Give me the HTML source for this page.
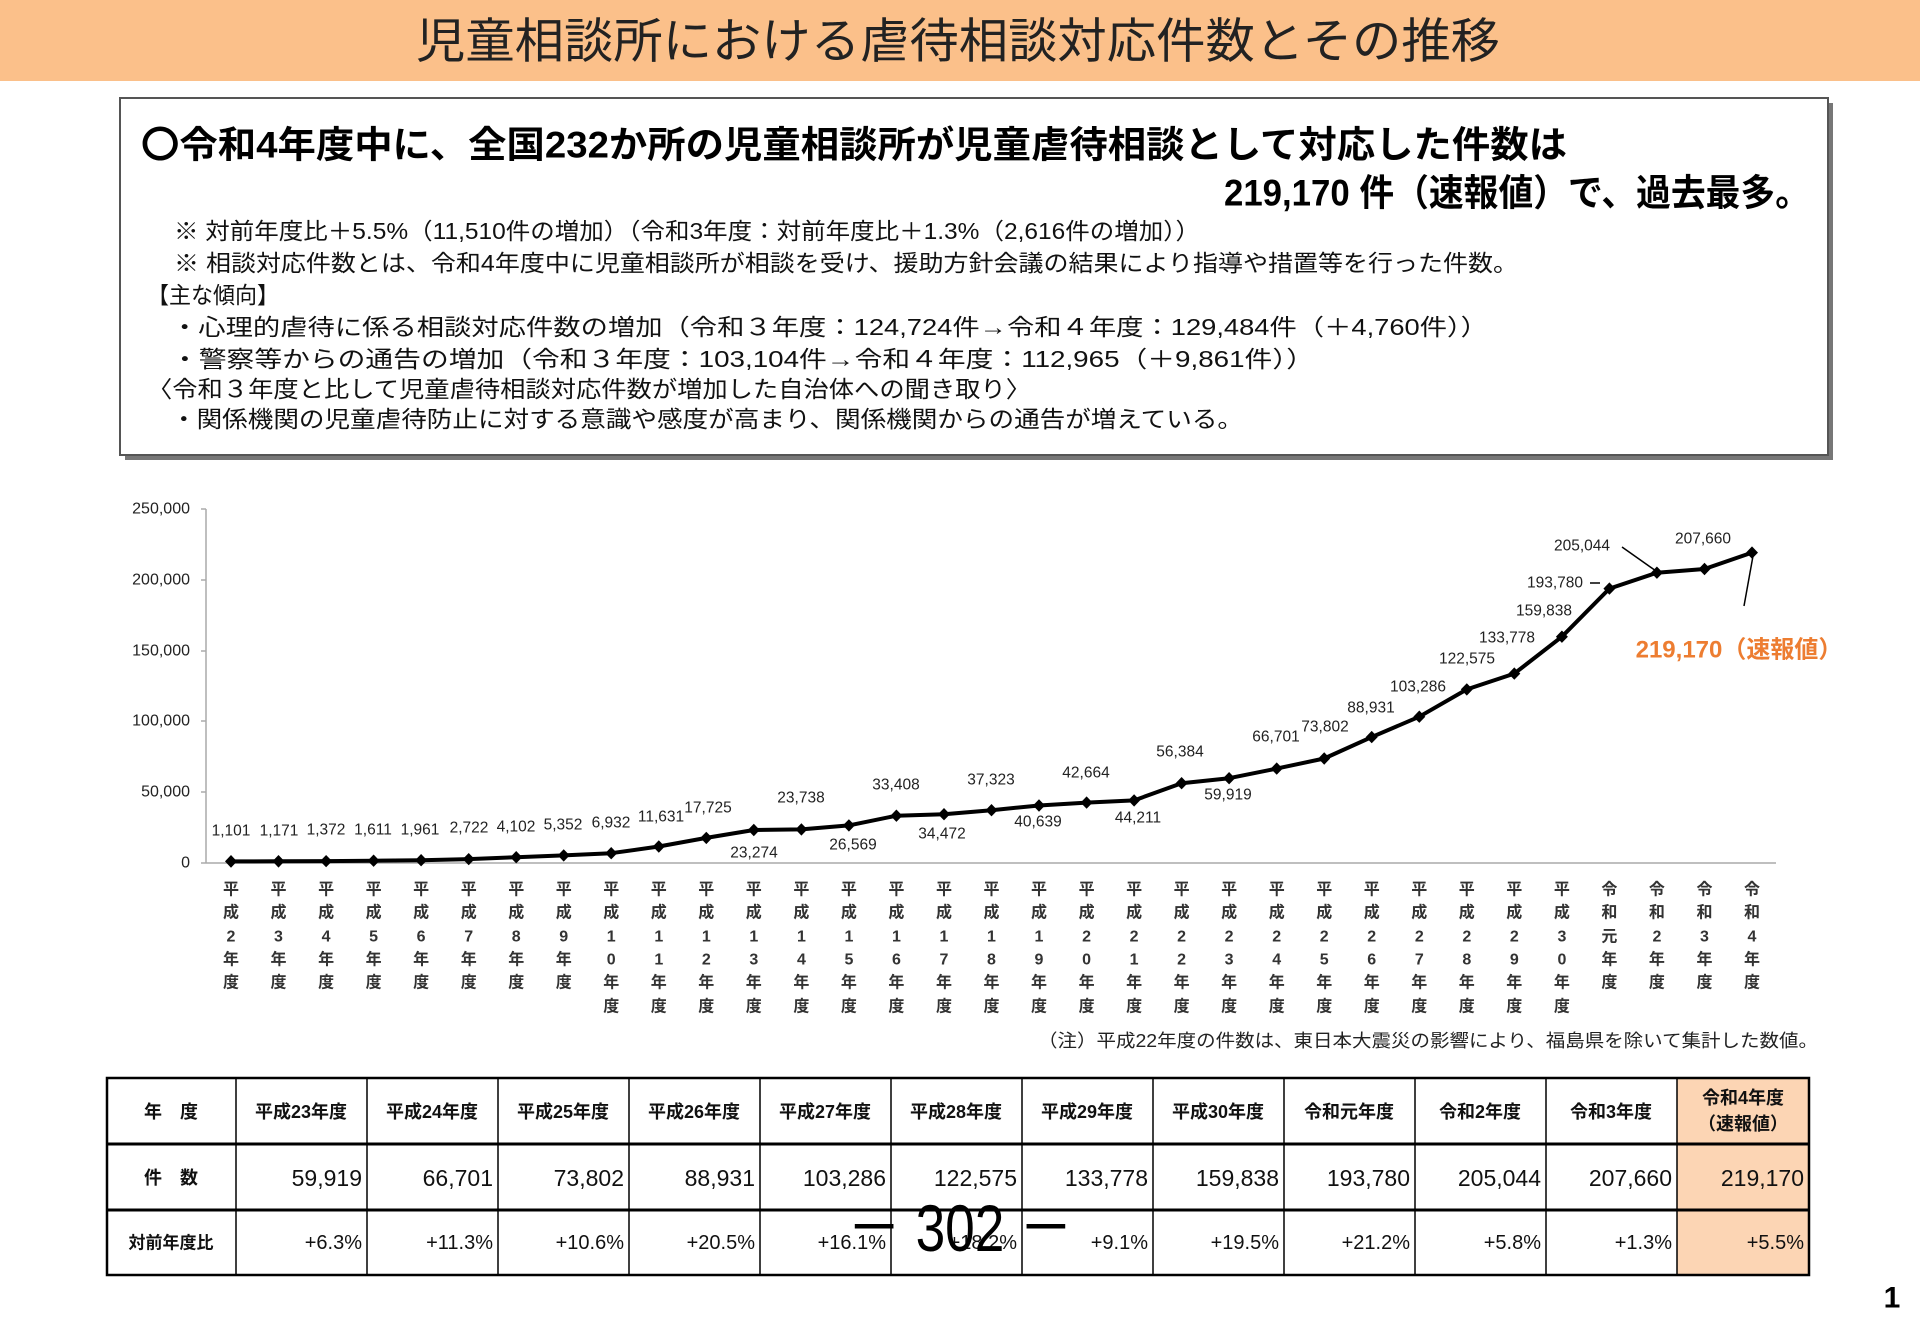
<!DOCTYPE html>
<html><head><meta charset="utf-8"><style>
html,body{margin:0;padding:0;background:#fff;}
svg{display:block;}
text{font-family:"Liberation Sans","Noto Sans CJK JP",sans-serif;}
</style></head><body>
<svg width="1920" height="1333" viewBox="0 0 1920 1333" xmlns="http://www.w3.org/2000/svg">
<rect x="0" y="0" width="1920" height="81" fill="#fbc08a"/>
<text x="958" y="42" font-size="48" text-anchor="middle" dominant-baseline="central" fill="#222" textLength="1084" lengthAdjust="spacingAndGlyphs">児童相談所における虐待相談対応件数とその推移</text>

<rect x="125" y="103" width="1708" height="357" fill="#777"/>
<rect x="120" y="98" width="1708" height="357" fill="#fff" stroke="#555" stroke-width="2"/>
<g font-weight="bold" fill="#000">
<text x="141" y="145" font-size="37" dominant-baseline="central" textLength="1426" lengthAdjust="spacingAndGlyphs">〇令和4年度中に、全国232か所の児童相談所が児童虐待相談として対応した件数は</text>
<text x="1224" y="193" font-size="37" dominant-baseline="central" textLength="586" lengthAdjust="spacingAndGlyphs">219,170 件（速報値）で、過去最多。</text>
</g>
<g fill="#111" font-size="23">
<text x="174" y="231" dominant-baseline="central" textLength="1026" lengthAdjust="spacingAndGlyphs">※ 対前年度比＋5.5%（11,510件の増加）（令和3年度：対前年度比＋1.3%（2,616件の増加））</text>
<text x="174" y="263" dominant-baseline="central" textLength="1344" lengthAdjust="spacingAndGlyphs">※ 相談対応件数とは、令和4年度中に児童相談所が相談を受け、援助方針会議の結果により指導や措置等を行った件数。</text>
<text x="147" y="295" dominant-baseline="central" textLength="132" lengthAdjust="spacingAndGlyphs">【主な傾向】</text>
<text x="171" y="327" dominant-baseline="central" textLength="1317" lengthAdjust="spacingAndGlyphs">・心理的虐待に係る相談対応件数の増加（令和３年度：124,724件→令和４年度：129,484件（＋4,760件））</text>
<text x="171" y="359" dominant-baseline="central" textLength="1143" lengthAdjust="spacingAndGlyphs">・警察等からの通告の増加（令和３年度：103,104件→令和４年度：112,965（＋9,861件））</text>
<text x="147" y="389" dominant-baseline="central" textLength="884" lengthAdjust="spacingAndGlyphs">〈令和３年度と比して児童虐待相談対応件数が増加した自治体への聞き取り〉</text>
<text x="171" y="419" dominant-baseline="central" textLength="1072" lengthAdjust="spacingAndGlyphs">・関係機関の児童虐待防止に対する意識や感度が高まり、関係機関からの通告が増えている。</text>
</g>

<!-- axes -->
<g stroke="#aaa" stroke-width="1.5">
<line x1="206" y1="509" x2="206" y2="863"/>
<line x1="206" y1="863" x2="1776" y2="863"/>
<line x1="201" y1="509" x2="206" y2="509"/><line x1="201" y1="580" x2="206" y2="580"/><line x1="201" y1="651" x2="206" y2="651"/><line x1="201" y1="721" x2="206" y2="721"/><line x1="201" y1="792" x2="206" y2="792"/><line x1="201" y1="863" x2="206" y2="863"/>
</g>
<g font-size="16" fill="#222" text-anchor="end" dominant-baseline="central">
<text x="190" y="509">250,000</text><text x="190" y="580">200,000</text><text x="190" y="651">150,000</text><text x="190" y="721">100,000</text><text x="190" y="792">50,000</text><text x="190" y="863">0</text>
</g>
<polyline fill="none" stroke="#000" stroke-width="4" stroke-linejoin="round" points="231,861.4 278.5,861.3 326.1,861.1 373.6,860.7 421.1,860.2 468.7,859.1 516.2,857.2 563.7,855.4 611.2,853.2 658.8,846.5 706.3,837.9 753.8,830 801.4,829.4 848.9,825.4 896.4,815.7 944,814.2 991.5,810.2 1039,805.5 1086.6,802.6 1134.1,800.4 1181.6,783.2 1229.1,778.2 1276.7,768.6 1324.2,758.5 1371.7,737.1 1419.3,716.7 1466.8,689.4 1514.3,673.6 1561.9,636.7 1609.4,588.6 1656.9,572.7 1704.5,569 1752,552.6"/>
<g fill="#000" id="mk"></g>
<g fill="#000">
<path d="M231,855l6,6.4l-6,6.4l-6,-6.4z"/><path d="M278.5,855l6,6.3l-6,6.3l-6,-6.3z"/><path d="M326.1,855l6,6.1l-6,6.1l-6,-6.1z"/><path d="M373.6,854.5l6,6.2l-6,6.2l-6,-6.2z"/><path d="M421.1,854l6,6.2l-6,6.2l-6,-6.2z"/><path d="M468.7,853l6,6.1l-6,6.1l-6,-6.1z"/><path d="M516.2,851l6,6.2l-6,6.2l-6,-6.2z"/><path d="M563.7,849.2l6,6.2l-6,6.2l-6,-6.2z"/><path d="M611.2,847l6,6.2l-6,6.2l-6,-6.2z"/><path d="M658.8,840.3l6,6.2l-6,6.2l-6,-6.2z"/><path d="M706.3,831.7l6,6.2l-6,6.2l-6,-6.2z"/><path d="M753.8,823.8l6,6.2l-6,6.2l-6,-6.2z"/><path d="M801.4,823.2l6,6.2l-6,6.2l-6,-6.2z"/><path d="M848.9,819.2l6,6.2l-6,6.2l-6,-6.2z"/><path d="M896.4,809.5l6,6.2l-6,6.2l-6,-6.2z"/><path d="M944,808l6,6.2l-6,6.2l-6,-6.2z"/><path d="M991.5,804l6,6.2l-6,6.2l-6,-6.2z"/><path d="M1039,799.3l6,6.2l-6,6.2l-6,-6.2z"/><path d="M1086.6,796.4l6,6.2l-6,6.2l-6,-6.2z"/><path d="M1134.1,794.2l6,6.2l-6,6.2l-6,-6.2z"/><path d="M1181.6,777l6,6.2l-6,6.2l-6,-6.2z"/><path d="M1229.1,772l6,6.2l-6,6.2l-6,-6.2z"/><path d="M1276.7,762.4l6,6.2l-6,6.2l-6,-6.2z"/><path d="M1324.2,752.3l6,6.2l-6,6.2l-6,-6.2z"/><path d="M1371.7,730.9l6,6.2l-6,6.2l-6,-6.2z"/><path d="M1419.3,710.5l6,6.2l-6,6.2l-6,-6.2z"/><path d="M1466.8,683.2l6,6.2l-6,6.2l-6,-6.2z"/><path d="M1514.3,667.4l6,6.2l-6,6.2l-6,-6.2z"/><path d="M1561.9,630.5l6,6.2l-6,6.2l-6,-6.2z"/><path d="M1609.4,582.4l6,6.2l-6,6.2l-6,-6.2z"/><path d="M1656.9,566.5l6,6.2l-6,6.2l-6,-6.2z"/><path d="M1704.5,562.8l6,6.2l-6,6.2l-6,-6.2z"/><path d="M1752,546.4l6,6.2l-6,6.2l-6,-6.2z"/>
</g>
<g stroke="#000" stroke-width="1.5"><line x1="1622" y1="547" x2="1656" y2="571"/><line x1="1753" y1="556" x2="1744" y2="606"/><line x1="1590" y1="583" x2="1600" y2="583"/></g>
<g font-size="15.5" fill="#222" text-anchor="middle" dominant-baseline="central">
<text x="231" y="831">1,101</text><text x="279" y="831">1,171</text><text x="326" y="830">1,372</text><text x="373" y="830">1,611</text><text x="420" y="830">1,961</text><text x="469" y="828">2,722</text><text x="516" y="827">4,102</text><text x="563" y="825">5,352</text><text x="611" y="823">6,932</text><text x="661" y="817">11,631</text><text x="708" y="808">17,725</text><text x="754" y="853">23,274</text><text x="801" y="798">23,738</text><text x="853" y="845">26,569</text><text x="896" y="785">33,408</text><text x="942" y="834">34,472</text><text x="991" y="780">37,323</text><text x="1038" y="822">40,639</text><text x="1086" y="773">42,664</text><text x="1138" y="818">44,211</text><text x="1180" y="752">56,384</text><text x="1228" y="795">59,919</text><text x="1276" y="737">66,701</text><text x="1325" y="727">73,802</text><text x="1371" y="708">88,931</text><text x="1418" y="687">103,286</text><text x="1467" y="659">122,575</text><text x="1507" y="638">133,778</text><text x="1544" y="611">159,838</text><text x="1555" y="583">193,780</text><text x="1582" y="546">205,044</text><text x="1703" y="539">207,660</text>
</g>
<text x="1739" y="650" font-size="24" font-weight="bold" fill="#ed7d31" text-anchor="middle" dominant-baseline="central">219,170（速報値）</text>

<!-- x labels -->
<g font-size="16" fill="#333" text-anchor="middle" dominant-baseline="central" font-weight="bold">
<text x="231" y="890">平</text><text x="231" y="913">成</text><text x="231" y="937">2</text><text x="231" y="960">年</text><text x="231" y="983">度</text>
<text x="278.5" y="890">平</text><text x="278.5" y="913">成</text><text x="278.5" y="937">3</text><text x="278.5" y="960">年</text><text x="278.5" y="983">度</text>
<text x="326.1" y="890">平</text><text x="326.1" y="913">成</text><text x="326.1" y="937">4</text><text x="326.1" y="960">年</text><text x="326.1" y="983">度</text>
<text x="373.6" y="890">平</text><text x="373.6" y="913">成</text><text x="373.6" y="937">5</text><text x="373.6" y="960">年</text><text x="373.6" y="983">度</text>
<text x="421.1" y="890">平</text><text x="421.1" y="913">成</text><text x="421.1" y="937">6</text><text x="421.1" y="960">年</text><text x="421.1" y="983">度</text>
<text x="468.7" y="890">平</text><text x="468.7" y="913">成</text><text x="468.7" y="937">7</text><text x="468.7" y="960">年</text><text x="468.7" y="983">度</text>
<text x="516.2" y="890">平</text><text x="516.2" y="913">成</text><text x="516.2" y="937">8</text><text x="516.2" y="960">年</text><text x="516.2" y="983">度</text>
<text x="563.7" y="890">平</text><text x="563.7" y="913">成</text><text x="563.7" y="937">9</text><text x="563.7" y="960">年</text><text x="563.7" y="983">度</text>
<text x="611.2" y="890">平</text><text x="611.2" y="913">成</text><text x="611.2" y="937">1</text><text x="611.2" y="960">0</text><text x="611.2" y="983">年</text><text x="611.2" y="1007">度</text>
<text x="658.8" y="890">平</text><text x="658.8" y="913">成</text><text x="658.8" y="937">1</text><text x="658.8" y="960">1</text><text x="658.8" y="983">年</text><text x="658.8" y="1007">度</text>
<text x="706.3" y="890">平</text><text x="706.3" y="913">成</text><text x="706.3" y="937">1</text><text x="706.3" y="960">2</text><text x="706.3" y="983">年</text><text x="706.3" y="1007">度</text>
<text x="753.8" y="890">平</text><text x="753.8" y="913">成</text><text x="753.8" y="937">1</text><text x="753.8" y="960">3</text><text x="753.8" y="983">年</text><text x="753.8" y="1007">度</text>
<text x="801.4" y="890">平</text><text x="801.4" y="913">成</text><text x="801.4" y="937">1</text><text x="801.4" y="960">4</text><text x="801.4" y="983">年</text><text x="801.4" y="1007">度</text>
<text x="848.9" y="890">平</text><text x="848.9" y="913">成</text><text x="848.9" y="937">1</text><text x="848.9" y="960">5</text><text x="848.9" y="983">年</text><text x="848.9" y="1007">度</text>
<text x="896.4" y="890">平</text><text x="896.4" y="913">成</text><text x="896.4" y="937">1</text><text x="896.4" y="960">6</text><text x="896.4" y="983">年</text><text x="896.4" y="1007">度</text>
<text x="944" y="890">平</text><text x="944" y="913">成</text><text x="944" y="937">1</text><text x="944" y="960">7</text><text x="944" y="983">年</text><text x="944" y="1007">度</text>
<text x="991.5" y="890">平</text><text x="991.5" y="913">成</text><text x="991.5" y="937">1</text><text x="991.5" y="960">8</text><text x="991.5" y="983">年</text><text x="991.5" y="1007">度</text>
<text x="1039" y="890">平</text><text x="1039" y="913">成</text><text x="1039" y="937">1</text><text x="1039" y="960">9</text><text x="1039" y="983">年</text><text x="1039" y="1007">度</text>
<text x="1086.6" y="890">平</text><text x="1086.6" y="913">成</text><text x="1086.6" y="937">2</text><text x="1086.6" y="960">0</text><text x="1086.6" y="983">年</text><text x="1086.6" y="1007">度</text>
<text x="1134.1" y="890">平</text><text x="1134.1" y="913">成</text><text x="1134.1" y="937">2</text><text x="1134.1" y="960">1</text><text x="1134.1" y="983">年</text><text x="1134.1" y="1007">度</text>
<text x="1181.6" y="890">平</text><text x="1181.6" y="913">成</text><text x="1181.6" y="937">2</text><text x="1181.6" y="960">2</text><text x="1181.6" y="983">年</text><text x="1181.6" y="1007">度</text>
<text x="1229.1" y="890">平</text><text x="1229.1" y="913">成</text><text x="1229.1" y="937">2</text><text x="1229.1" y="960">3</text><text x="1229.1" y="983">年</text><text x="1229.1" y="1007">度</text>
<text x="1276.7" y="890">平</text><text x="1276.7" y="913">成</text><text x="1276.7" y="937">2</text><text x="1276.7" y="960">4</text><text x="1276.7" y="983">年</text><text x="1276.7" y="1007">度</text>
<text x="1324.2" y="890">平</text><text x="1324.2" y="913">成</text><text x="1324.2" y="937">2</text><text x="1324.2" y="960">5</text><text x="1324.2" y="983">年</text><text x="1324.2" y="1007">度</text>
<text x="1371.7" y="890">平</text><text x="1371.7" y="913">成</text><text x="1371.7" y="937">2</text><text x="1371.7" y="960">6</text><text x="1371.7" y="983">年</text><text x="1371.7" y="1007">度</text>
<text x="1419.3" y="890">平</text><text x="1419.3" y="913">成</text><text x="1419.3" y="937">2</text><text x="1419.3" y="960">7</text><text x="1419.3" y="983">年</text><text x="1419.3" y="1007">度</text>
<text x="1466.8" y="890">平</text><text x="1466.8" y="913">成</text><text x="1466.8" y="937">2</text><text x="1466.8" y="960">8</text><text x="1466.8" y="983">年</text><text x="1466.8" y="1007">度</text>
<text x="1514.3" y="890">平</text><text x="1514.3" y="913">成</text><text x="1514.3" y="937">2</text><text x="1514.3" y="960">9</text><text x="1514.3" y="983">年</text><text x="1514.3" y="1007">度</text>
<text x="1561.9" y="890">平</text><text x="1561.9" y="913">成</text><text x="1561.9" y="937">3</text><text x="1561.9" y="960">0</text><text x="1561.9" y="983">年</text><text x="1561.9" y="1007">度</text>
<text x="1609.4" y="890">令</text><text x="1609.4" y="913">和</text><text x="1609.4" y="937">元</text><text x="1609.4" y="960">年</text><text x="1609.4" y="983">度</text>
<text x="1656.9" y="890">令</text><text x="1656.9" y="913">和</text><text x="1656.9" y="937">2</text><text x="1656.9" y="960">年</text><text x="1656.9" y="983">度</text>
<text x="1704.5" y="890">令</text><text x="1704.5" y="913">和</text><text x="1704.5" y="937">3</text><text x="1704.5" y="960">年</text><text x="1704.5" y="983">度</text>
<text x="1752" y="890">令</text><text x="1752" y="913">和</text><text x="1752" y="937">4</text><text x="1752" y="960">年</text><text x="1752" y="983">度</text>
</g>
<text x="1818" y="1041" font-size="18" fill="#222" text-anchor="end" dominant-baseline="central" textLength="780" lengthAdjust="spacingAndGlyphs">（注）平成22年度の件数は、東日本大震災の影響により、福島県を除いて集計した数値。</text>

<!-- table -->
<rect x="1677" y="1078" width="132" height="197" fill="#fcd5b4"/>
<g stroke="#000" fill="none">
<rect x="107" y="1078" width="1702" height="197" stroke-width="2.5"/>
<line x1="107" y1="1144" x2="1809" y2="1144" stroke-width="3"/>
<line x1="107" y1="1210" x2="1809" y2="1210" stroke-width="3"/>
<g stroke-width="1.5">
<line x1="236" y1="1078" x2="236" y2="1275"/><line x1="367" y1="1078" x2="367" y2="1275"/><line x1="498" y1="1078" x2="498" y2="1275"/><line x1="629" y1="1078" x2="629" y2="1275"/><line x1="760" y1="1078" x2="760" y2="1275"/><line x1="891" y1="1078" x2="891" y2="1275"/><line x1="1022" y1="1078" x2="1022" y2="1275"/><line x1="1153" y1="1078" x2="1153" y2="1275"/><line x1="1284" y1="1078" x2="1284" y2="1275"/><line x1="1415" y1="1078" x2="1415" y2="1275"/><line x1="1546" y1="1078" x2="1546" y2="1275"/><line x1="1677" y1="1078" x2="1677" y2="1275"/>
</g></g>
<g font-size="18" font-weight="bold" fill="#111" text-anchor="middle" dominant-baseline="central">
<text x="171" y="1112">年　度</text><text x="171" y="1178">件　数</text><text x="171" y="1243" font-size="17">対前年度比</text>
<text x="301" y="1112">平成23年度</text><text x="432" y="1112">平成24年度</text><text x="563" y="1112">平成25年度</text><text x="694" y="1112">平成26年度</text><text x="825" y="1112">平成27年度</text><text x="956" y="1112">平成28年度</text><text x="1087" y="1112">平成29年度</text><text x="1218" y="1112">平成30年度</text><text x="1349" y="1112">令和元年度</text><text x="1480" y="1112">令和2年度</text><text x="1611" y="1112">令和3年度</text>
<text x="1743" y="1098">令和4年度</text><text x="1743" y="1124">（速報値）</text>
</g>
<g font-size="23" fill="#111" text-anchor="end" dominant-baseline="central">
<text x="362" y="1178">59,919</text><text x="493" y="1178">66,701</text><text x="624" y="1178">73,802</text><text x="755" y="1178">88,931</text><text x="886" y="1178">103,286</text><text x="1017" y="1178">122,575</text><text x="1148" y="1178">133,778</text><text x="1279" y="1178">159,838</text><text x="1410" y="1178">193,780</text><text x="1541" y="1178">205,044</text><text x="1672" y="1178">207,660</text><text x="1804" y="1178">219,170</text>
</g>
<g font-size="20" fill="#111" text-anchor="end" dominant-baseline="central">
<text x="362" y="1243">+6.3%</text><text x="493" y="1243">+11.3%</text><text x="624" y="1243">+10.6%</text><text x="755" y="1243">+20.5%</text><text x="886" y="1243">+16.1%</text><text x="1017" y="1243">+18.2%</text><text x="1148" y="1243">+9.1%</text><text x="1279" y="1243">+19.5%</text><text x="1410" y="1243">+21.2%</text><text x="1541" y="1243">+5.8%</text><text x="1672" y="1243">+1.3%</text><text x="1804" y="1243">+5.5%</text>
</g>
<text x="960" y="1228" font-size="66" fill="#000" text-anchor="middle" dominant-baseline="central" textLength="225" lengthAdjust="spacingAndGlyphs">－ 302 －</text>
<text x="1892" y="1298" font-size="30" font-weight="bold" fill="#000" text-anchor="middle" dominant-baseline="central">1</text>
</svg>
</body></html>
